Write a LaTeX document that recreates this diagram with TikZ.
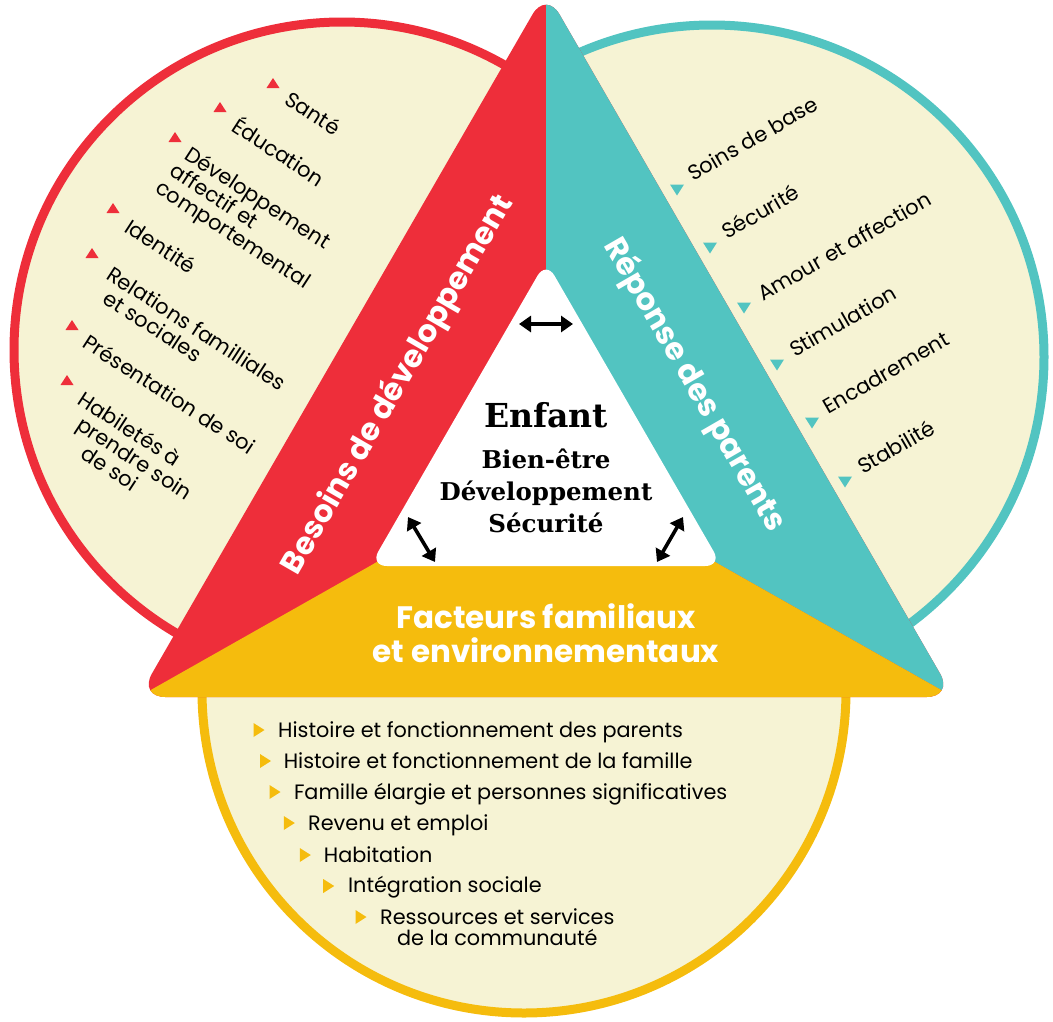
\documentclass[tikz,border=0pt]{standalone}
\usepackage{fontspec}
\setmainfont{Poppins}
\newfontfamily\slabfont{DejaVu Serif}
\usetikzlibrary{arrows.meta,calc}
\definecolor{cred}{HTML}{EE2E3A}
\definecolor{cteal}{HTML}{52C4C1}
\definecolor{cyel}{HTML}{F5BC0D}
\definecolor{ccream}{HTML}{F6F3D4}
\begin{document}
\begin{tikzpicture}[x=1pt,y=-1pt,
  ring/.style={fill=ccream, line width=9pt},
  item/.style={font=\fontsize{21}{25}\selectfont, anchor=base west, inner sep=0pt, text=black},
  bitem/.style={font=\fontsize{20.8}{25}\selectfont, anchor=base west, inner sep=0pt, text=black},
  band/.style={font=\fontsize{31}{36}\selectfont\bfseries, text=white, inner sep=0pt},
  ytitle/.style={font=\fontsize{31}{36}\selectfont\bfseries, text=white, inner sep=0pt, anchor=base},
  ctr/.style={font=\slabfont\bfseries\fontsize{24.5}{30}\selectfont, inner sep=0pt, anchor=base},
  dbl/.style={{Triangle[length=12pt,width=16pt]}-{Triangle[length=12pt,width=16pt]}, line width=3.6pt},
  uptri/.pic={\fill[cred] (-6.5,5) -- (6.5,5) -- (0,-5) -- cycle;},
  dntri/.pic={\fill[cteal] (-7,-5.5) -- (7,-5.5) -- (0,5.5) -- cycle;},
  rttri/.pic={\fill[cyel] (-5.5,-7) -- (5.5,0) -- (-5.5,7) -- cycle;}
]
\useasboundingbox (0,0) rectangle (1053,1021);

% circles
\draw[ring, draw=cteal] (712,357) circle[radius=332];
\draw[ring, draw=cyel] (524,691) circle[radius=322];
\draw[ring, draw=cred] (342,350) circle[radius=328];

% triangle geometry
\coordinate (A) at (546,-9);
\coordinate (BL) at (138.4,697);
\coordinate (BR) at (953.6,697);
\coordinate (a) at (546,261);
\coordinate (bl) at (369.9,566);
\coordinate (br) at (722.1,566);
\coordinate (Cin) at (546,464.3);

\begin{scope}
  \clip[rounded corners=27pt] (546,697) -- (BR) -- (A) -- (BL) -- cycle;
  \fill[cred] (100,-20) rectangle (1000,720);
  \fill[cteal] (546,-20) -- (Cin) -- (br) -- ($(br)!2!(BR)$) -- (1200,-20) -- cycle;
  \fill[cyel] (Cin) -- (bl) -- ($(bl)!2!(BL)$) -- ($(br)!2!(BR)$) -- (br) -- cycle;
\end{scope}
\fill[white, rounded corners=17pt] (546,566) -- (br) -- (a) -- (bl) -- cycle;

% band titles
\node[band, rotate=60] (besoins) at (398,385) {Besoins de développement};
\node[band, rotate=-60] (reponse) at (694,385) {Réponse des parents};

% centre
\node[font=\slabfont\bfseries\fontsize{33}{40}\selectfont, inner sep=0pt, anchor=base] (enfant) at (546,427) {Enfant};
\node[ctr] (bien) at (546,468) {Bien-être};
\node[ctr] (devc) at (546,500) {Développement};
\node[ctr] (secu) at (546,532) {Sécurité};

% arrows
\coordinate (t1) at (519,324); \coordinate (t2) at (573,324);
\coordinate (l1) at (408,517); \coordinate (l2) at (435,562);
\coordinate (r1) at (683,517); \coordinate (r2) at (657,562);
\draw[dbl] (t1) -- (t2);
\draw[dbl] (l1) -- (l2);
\draw[dbl] (r1) -- (r2);

% yellow title
\node[ytitle] (fact1) at (546,628) {Facteurs familiaux};
\node[ytitle] (fact2) at (546,662) {et environnementaux};

% left list
\pic at (273,83) {uptri};
\pic at (220,107) {uptri};
\pic at (175,137) {uptri};
\pic at (113,208) {uptri};
\pic at (92,253) {uptri};
\pic at (72,325) {uptri};
\pic at (67,380) {uptri};
\begin{scope}[shift={(283,103)}, rotate=-33, transform shape]
  \node[item] (sante) at (0,0) {Santé};
\end{scope}
\begin{scope}[shift={(230,130)}, rotate=-33, transform shape]
  \node[item] (educ) at (0,0) {Éducation};
\end{scope}
\begin{scope}[shift={(183,158)}, rotate=-33, transform shape]
  \node[item] (dev1) at (0,0) {Développement};
  \node[item] (dev2) at (-3,22) {affectif et};
  \node[item] (dev3) at (-6,44) {comportemental};
\end{scope}
\begin{scope}[shift={(123,231)}, rotate=-33, transform shape]
  \node[item] (ident) at (0,0) {Identité};
\end{scope}
\begin{scope}[shift={(105,278)}, rotate=-33, transform shape]
  \node[item] (rel1) at (0,0) {Relations familliales};
  \node[item] (rel2) at (10,22) {et sociales};
\end{scope}
\begin{scope}[shift={(81,346)}, rotate=-33, transform shape]
  \node[item] (pres) at (0,0) {Présentation de soi};
\end{scope}
\begin{scope}[shift={(76,403)}, rotate=-33, transform shape]
  \node[item] (hab1) at (0,0) {Habiletés à};
  \node[item] (hab2) at (13,22) {prendre soin};
  \node[item] (hab3) at (33,44) {de soi};
\end{scope}

% right list
\pic at (677,190) {dntri};
\pic at (710,248) {dntri};
\pic at (744,308) {dntri};
\pic at (777,365) {dntri};
\pic at (812,423) {dntri};
\pic at (845,482) {dntri};
\begin{scope}[shift={(693,182)}, rotate=30, transform shape]
  \node[item] (soins) at (0,0) {Soins de base};
\end{scope}
\begin{scope}[shift={(727,240)}, rotate=30, transform shape]
  \node[item] (secr) at (0,0) {Sécurité};
\end{scope}
\begin{scope}[shift={(763,302)}, rotate=30, transform shape]
  \node[item] (amour) at (0,0) {Amour et affection};
\end{scope}
\begin{scope}[shift={(795,358)}, rotate=30, transform shape]
  \node[item] (stim) at (0,0) {Stimulation};
\end{scope}
\begin{scope}[shift={(828,415)}, rotate=30, transform shape]
  \node[item] (encad) at (0,0) {Encadrement};
\end{scope}
\begin{scope}[shift={(863,475)}, rotate=30, transform shape]
  \node[item] (stab) at (0,0) {Stabilité};
\end{scope}

% bottom list
\pic at (259,730) {rttri};
\pic at (265.5,761) {rttri};
\pic at (275,792) {rttri};
\pic at (289.3,823) {rttri};
\pic at (305.3,855) {rttri};
\pic at (328.7,886) {rttri};
\pic at (361,917) {rttri};
\node[bitem] (b1) at (278,737) {Histoire et fonctionnement des parents};
\node[bitem] (b2) at (283.6,768) {Histoire et fonctionnement de la famille};
\node[bitem] (b3) at (293.8,799) {Famille élargie et personnes significatives};
\node[bitem] (b4) at (308,830) {Revenu et emploi};
\node[bitem] (b5) at (323.7,862) {Habitation};
\node[bitem] (b6) at (347.9,892) {Intégration sociale};
\node[bitem] (b7) at (380,924) {Ressources et services};
\node[bitem, anchor=base] (b7b) at ([yshift=-21.5pt]b7.base) {de la communauté};
\end{tikzpicture}
\end{document}
